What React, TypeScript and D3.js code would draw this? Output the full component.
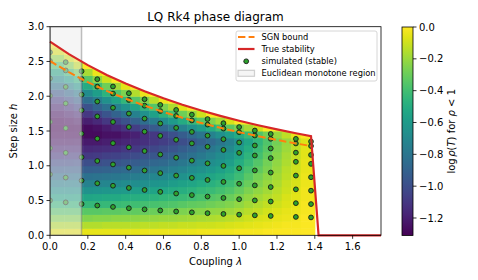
import React, { useEffect, useRef } from 'react';
import * as d3 from 'd3';

// stability boundaries
const curveLambda = [0, 0.1, 0.2, 0.3, 0.4, 0.5, 0.6, 0.7, 0.8, 0.9, 1.0, 1.1, 1.2, 1.3, 1.38];
const trueStability = [2.785, 2.605, 2.447, 2.307, 2.183, 2.071, 1.97, 1.878, 1.794, 1.718, 1.648, 1.583, 1.524, 1.468, 1.427];
const trueTailLambda = [1.42, 1.75];
const trueTail = [0, 0];
const sgnBound = [2.507, 2.345, 2.202, 2.076, 1.965, 1.864, 1.773, 1.69, 1.615, 1.546, 1.483, 1.425, 1.372, 1.321, 1.284];

// simulated (stable) runs
const simLambda = [0, 0.083, 0.167, 0.25, 0.333, 0.417, 0.5, 0.583, 0.667, 0.75, 0.833, 0.917, 1.0, 1.083, 1.167, 1.3, 1.38];
const simStep = [
  [0.501, 0.877, 1.253, 1.63, 2.006, 2.256, 2.507, 2.632],
  [0.474, 0.83, 1.186, 1.541, 1.897, 2.134, 2.371, 2.49],
  [0.45, 0.787, 1.124, 1.461, 1.798, 2.023, 2.248, 2.36],
  [0.428, 0.748, 1.069, 1.39, 1.71, 1.924, 2.138, 2.245],
  [0.408, 0.713, 1.019, 1.325, 1.63, 1.834, 2.038, 2.14],
  [0.389, 0.681, 0.973, 1.265, 1.557, 1.751, 1.946, 2.043],
  [0.373, 0.652, 0.932, 1.212, 1.491, 1.678, 1.864, 1.957],
  [0.357, 0.625, 0.894, 1.162, 1.43, 1.608, 1.787, 1.876],
  [0.343, 0.601, 0.859, 1.116, 1.374, 1.545, 1.717, 1.803],
  [0.33, 0.578, 0.826, 1.074, 1.322, 1.487, 1.652, 1.735],
  [0.318, 0.557, 0.796, 1.035, 1.274, 1.433, 1.592, 1.672],
  [0.307, 0.537, 0.768, 0.998, 1.228, 1.382, 1.535, 1.612],
  [0.297, 0.519, 0.742, 0.964, 1.186, 1.335, 1.483, 1.557],
  [0.287, 0.502, 0.718, 0.933, 1.148, 1.292, 1.435, 1.507],
  [0.278, 0.486, 0.694, 0.902, 1.11, 1.249, 1.388, 1.457],
  [0.264, 0.462, 0.661, 0.859, 1.057, 1.189, 1.321, 1.387],
  [0.257, 0.449, 0.642, 0.835, 1.027, 1.156, 1.284, 1.348],
];

// log rho(T) grid, one array per lambda column, rows going up in h (0.1 steps)
const heatLambdaEdges = [0, 0.075, 0.125, 0.175, 0.225, 0.275, 0.325, 0.375, 0.425, 0.475, 0.525, 0.575, 0.625, 0.675,
  0.725, 0.775, 0.825, 0.875, 0.925, 0.975, 1.025, 1.075, 1.125, 1.175, 1.225, 1.275, 1.325, 1.4];
const heatStepEdges = [0, 0.1, 0.2, 0.3, 0.4, 0.5, 0.6, 0.7, 0.8, 0.9, 1.0, 1.1, 1.2, 1.3, 1.4, 1.5, 1.6, 1.7, 1.8, 1.9, 2.0, 2.1, 2.2, 2.3, 2.4, 2.5, 2.6, 2.7, 2.8];
const heatValues = [
  [-0.05, -0.15, -0.25, -0.35, -0.45, -0.55, -0.65, -0.75, -0.84, -0.94, -1.02, -1.11, -1.18, -1.24, -1.28, -1.3, -1.29, -1.25, -1.18, -1.08, -0.96, -0.83, -0.69, -0.54, -0.38, -0.22, -0.07, 0],
  [-0.05, -0.15, -0.25, -0.35, -0.45, -0.55, -0.65, -0.74, -0.84, -0.93, -1.02, -1.1, -1.17, -1.24, -1.28, -1.3, -1.27, -1.21, -1.12, -1.01, -0.88, -0.73, -0.58, -0.42, -0.25, -0.09, 0],
  [-0.05, -0.15, -0.25, -0.35, -0.45, -0.54, -0.64, -0.74, -0.83, -0.93, -1.01, -1.1, -1.17, -1.23, -1.28, -1.29, -1.24, -1.16, -1.05, -0.92, -0.78, -0.62, -0.46, -0.29, -0.12, -0.01],
  [-0.05, -0.15, -0.25, -0.34, -0.44, -0.54, -0.64, -0.73, -0.82, -0.92, -1.0, -1.09, -1.16, -1.22, -1.27, -1.27, -1.2, -1.1, -0.98, -0.84, -0.68, -0.51, -0.34, -0.17, 0],
  [-0.05, -0.15, -0.24, -0.34, -0.44, -0.53, -0.63, -0.72, -0.81, -0.91, -1.0, -1.08, -1.15, -1.22, -1.27, -1.25, -1.16, -1.04, -0.9, -0.75, -0.58, -0.4, -0.22, -0.04, 0],
  [-0.05, -0.14, -0.24, -0.33, -0.43, -0.52, -0.62, -0.71, -0.8, -0.9, -0.98, -1.06, -1.14, -1.2, -1.25, -1.21, -1.1, -0.97, -0.82, -0.65, -0.47, -0.29, -0.1, 0],
  [-0.05, -0.14, -0.23, -0.33, -0.42, -0.52, -0.61, -0.7, -0.79, -0.88, -0.97, -1.05, -1.13, -1.19, -1.25, -1.17, -1.05, -0.9, -0.73, -0.55, -0.36, -0.18, -0.01],
  [-0.05, -0.14, -0.23, -0.32, -0.41, -0.5, -0.6, -0.68, -0.78, -0.86, -0.95, -1.03, -1.1, -1.17, -1.22, -1.12, -0.98, -0.82, -0.64, -0.45, -0.26, -0.06],
  [-0.05, -0.14, -0.23, -0.32, -0.4, -0.49, -0.58, -0.67, -0.76, -0.85, -0.93, -1.01, -1.09, -1.15, -1.19, -1.07, -0.91, -0.74, -0.55, -0.35, -0.15, -0.01],
  [-0.04, -0.13, -0.22, -0.31, -0.39, -0.48, -0.57, -0.66, -0.74, -0.82, -0.91, -0.98, -1.06, -1.13, -1.14, -1.0, -0.84, -0.65, -0.45, -0.25, -0.04],
  [-0.04, -0.13, -0.21, -0.3, -0.38, -0.47, -0.55, -0.63, -0.71, -0.8, -0.88, -0.96, -1.03, -1.1, -1.1, -0.94, -0.76, -0.56, -0.35, -0.14, -0.01],
  [-0.04, -0.12, -0.2, -0.29, -0.37, -0.45, -0.53, -0.62, -0.7, -0.78, -0.86, -0.93, -1.0, -1.07, -1.04, -0.88, -0.68, -0.47, -0.26, -0.04],
  [-0.04, -0.12, -0.2, -0.28, -0.36, -0.43, -0.51, -0.59, -0.67, -0.75, -0.82, -0.9, -0.97, -1.04, -0.99, -0.8, -0.6, -0.38, -0.16, -0.01],
  [-0.04, -0.11, -0.19, -0.26, -0.34, -0.42, -0.49, -0.56, -0.64, -0.72, -0.79, -0.86, -0.93, -1.0, -0.93, -0.73, -0.51, -0.29, -0.06],
  [-0.04, -0.11, -0.18, -0.25, -0.32, -0.4, -0.47, -0.54, -0.61, -0.68, -0.75, -0.82, -0.89, -0.96, -0.86, -0.65, -0.43, -0.2, -0.01],
  [-0.03, -0.1, -0.17, -0.24, -0.31, -0.38, -0.44, -0.51, -0.58, -0.65, -0.71, -0.78, -0.84, -0.91, -0.8, -0.58, -0.34, -0.1],
  [-0.03, -0.1, -0.16, -0.22, -0.29, -0.35, -0.42, -0.48, -0.54, -0.61, -0.67, -0.73, -0.79, -0.86, -0.73, -0.5, -0.25, -0.01],
  [-0.03, -0.09, -0.15, -0.21, -0.27, -0.33, -0.39, -0.45, -0.51, -0.57, -0.63, -0.68, -0.74, -0.8, -0.66, -0.41, -0.17, 0],
  [-0.03, -0.08, -0.14, -0.19, -0.25, -0.3, -0.36, -0.41, -0.47, -0.52, -0.58, -0.63, -0.69, -0.74, -0.58, -0.33, -0.08],
  [-0.02, -0.07, -0.12, -0.17, -0.22, -0.26, -0.31, -0.36, -0.41, -0.45, -0.5, -0.55, -0.59, -0.64, -0.51, -0.25, 0],
  [-0.02, -0.06, -0.1, -0.14, -0.18, -0.22, -0.26, -0.3, -0.34, -0.38, -0.42, -0.46, -0.5, -0.54, -0.43, -0.17, -0.01],
  [-0.02, -0.05, -0.08, -0.12, -0.15, -0.18, -0.22, -0.25, -0.28, -0.32, -0.35, -0.39, -0.42, -0.45, -0.36, -0.09],
  [-0.01, -0.04, -0.07, -0.09, -0.12, -0.15, -0.18, -0.2, -0.23, -0.26, -0.28, -0.31, -0.34, -0.36, -0.28, -0.01],
  [-0.01, -0.03, -0.05, -0.07, -0.1, -0.12, -0.14, -0.16, -0.18, -0.2, -0.22, -0.24, -0.26, -0.28, -0.2, 0],
  [-0.01, -0.02, -0.04, -0.05, -0.07, -0.08, -0.1, -0.11, -0.13, -0.14, -0.16, -0.17, -0.19, -0.2, -0.13, 0],
  [-0.01, -0.02, -0.03, -0.04, -0.05, -0.06, -0.07, -0.08, -0.09, -0.1, -0.11, -0.12, -0.13, -0.14, -0.05],
  [0, -0.01, -0.01, -0.02, -0.02, -0.03, -0.03, -0.04, -0.04, -0.05, -0.05, -0.06, -0.06, -0.07, -0.01],
];

const euclidLambda = 0.1667;
const xTicks = [0, 0.2, 0.4, 0.6, 0.8, 1.0, 1.2, 1.4, 1.6];
const yTicks = [0, 0.5, 1.0, 1.5, 2.0, 2.5, 3.0];
const cbarTicks = [0, -0.2, -0.4, -0.6, -0.8, -1.0, -1.2];
const vMin = -1.31;

const FONT = '"DejaVu Sans", sans-serif';

export default function App() {
  const ref = useRef<SVGSVGElement>(null);

  useEffect(() => {
    document.body.style.margin = '0';
    const svg = d3.select(ref.current);
    svg.selectAll('*').remove();

    const x = d3.scaleLinear().domain([0, 1.75]).range([50, 381]);
    const y = d3.scaleLinear().domain([0, 3]).range([235.3, 26.7]);
    const color = d3.scaleSequential(d3.interpolateViridis).domain([vMin, 0]);
    const fmt = d3.format('.1f');

    const defs = svg.append('defs');
    defs.append('clipPath').attr('id', 'plot-clip')
      .append('rect').attr('x', x(0)).attr('y', y(3))
      .attr('width', x(1.75) - x(0)).attr('height', y(0) - y(3));

    // region under the true stability curve
    const underPts: [number, number][] = [[0, 0]];
    curveLambda.forEach((l, i) => underPts.push([l, trueStability[i]]));
    underPts.push([trueTailLambda[0], 0]);
    const lineXY = d3.line<[number, number]>().x(d => x(d[0])).y(d => y(d[1]));
    defs.append('clipPath').attr('id', 'stable-clip')
      .append('path').attr('d', lineXY(underPts) + 'Z');

    const plot = svg.append('g').attr('clip-path', 'url(#plot-clip)');

    // heatmap
    const heat = plot.append('g').attr('clip-path', 'url(#stable-clip)');
    heatValues.forEach((col, i) => {
      col.forEach((v, j) => {
        heat.append('rect')
          .attr('x', x(heatLambdaEdges[i]))
          .attr('y', y(heatStepEdges[j + 1]))
          .attr('width', x(heatLambdaEdges[i + 1]) - x(heatLambdaEdges[i]) + 0.5)
          .attr('height', y(heatStepEdges[j]) - y(heatStepEdges[j + 1]) + 0.5)
          .attr('fill', color(v));
      });
    });

    // simulated points
    simLambda.forEach((l, i) => {
      plot.selectAll(null).data(simStep[i]).enter().append('circle')
        .attr('cx', x(l)).attr('cy', d => y(d)).attr('r', 2.4)
        .attr('fill', '#2ca02c').attr('stroke', '#1a1a1a').attr('stroke-width', 0.9);
    });

    // euclidean monotone region
    plot.append('rect')
      .attr('x', x(0)).attr('y', y(3))
      .attr('width', x(euclidLambda) - x(0)).attr('height', y(0) - y(3))
      .attr('fill', '#ebebeb').attr('fill-opacity', 0.5)
      .attr('stroke', '#808080').attr('stroke-opacity', 0.5).attr('stroke-width', 1.5);

    // curves
    const sgnPts: [number, number][] = curveLambda.map((l, i) => [l, sgnBound[i]]);
    const truePts: [number, number][] = curveLambda.map((l, i) => [l, trueStability[i]]);
    trueTailLambda.forEach((l, i) => truePts.push([l, trueTail[i]]));
    plot.append('path').attr('d', lineXY(sgnPts)).attr('fill', 'none')
      .attr('stroke', '#ff7f0e').attr('stroke-width', 2).attr('stroke-dasharray', '7.4,3.2');
    svg.append('path').attr('d', lineXY(truePts)).attr('fill', 'none')
      .attr('stroke', '#d62728').attr('stroke-width', 2.2).attr('stroke-linejoin', 'miter');

    // spines
    svg.append('rect').attr('x', x(0)).attr('y', y(3))
      .attr('width', x(1.75) - x(0)).attr('height', y(0) - y(3))
      .attr('fill', 'none').attr('stroke', '#000').attr('stroke-width', 0.8);

    // x axis
    const gx = svg.append('g');
    xTicks.forEach(t => {
      gx.append('line').attr('x1', x(t)).attr('x2', x(t)).attr('y1', y(0)).attr('y2', y(0) + 3.5)
        .attr('stroke', '#000').attr('stroke-width', 0.8);
      gx.append('text').attr('x', x(t)).attr('y', y(0) + 15).attr('text-anchor', 'middle')
        .attr('font-family', FONT).attr('font-size', 10).text(fmt(t));
    });
    const xl = svg.append('text').attr('x', (x(0) + x(1.75)) / 2).attr('y', 265)
      .attr('text-anchor', 'middle').attr('font-family', FONT).attr('font-size', 10);
    xl.append('tspan').text('Coupling ');
    xl.append('tspan').attr('font-style', 'italic').text('λ');

    // y axis
    const gy = svg.append('g');
    yTicks.forEach(t => {
      gy.append('line').attr('x1', x(0) - 3.5).attr('x2', x(0)).attr('y1', y(t)).attr('y2', y(t))
        .attr('stroke', '#000').attr('stroke-width', 0.8);
      gy.append('text').attr('x', x(0) - 6).attr('y', y(t) + 3.6).attr('text-anchor', 'end')
        .attr('font-family', FONT).attr('font-size', 10).text(fmt(t));
    });
    const yl = svg.append('text').attr('transform', `translate(17,${(y(0) + y(3)) / 2}) rotate(-90)`)
      .attr('text-anchor', 'middle').attr('font-family', FONT).attr('font-size', 10);
    yl.append('tspan').text('Step size ');
    yl.append('tspan').attr('font-style', 'italic').text('h');

    // title
    svg.append('text').attr('x', (x(0) + x(1.75)) / 2).attr('y', 20.5).attr('text-anchor', 'middle')
      .attr('font-family', FONT).attr('font-size', 12).text('LQ Rk4 phase diagram');

    // legend
    const lg = svg.append('g');
    lg.append('rect').attr('x', 236).attr('y', 31).attr('width', 141).attr('height', 50).attr('rx', 2)
      .attr('fill', '#fff').attr('fill-opacity', 0.8).attr('stroke', '#cccccc').attr('stroke-width', 0.8);
    const rows = [37, 49, 61.3, 73.3];
    const labels = ['SGN bound', 'True stability', 'simulated (stable)', 'Euclidean monotone region'];
    lg.append('line').attr('x1', 238).attr('x2', 254.5).attr('y1', rows[0]).attr('y2', rows[0])
      .attr('stroke', '#ff7f0e').attr('stroke-width', 2).attr('stroke-dasharray', '7.4,3.2');
    lg.append('line').attr('x1', 238).attr('x2', 254.5).attr('y1', rows[1]).attr('y2', rows[1])
      .attr('stroke', '#d62728').attr('stroke-width', 2.2);
    lg.append('circle').attr('cx', 246.2).attr('cy', rows[2]).attr('r', 2.4)
      .attr('fill', '#2ca02c').attr('stroke', '#1a1a1a').attr('stroke-width', 0.9);
    lg.append('rect').attr('x', 238).attr('y', rows[3] - 3).attr('width', 16.5).attr('height', 6)
      .attr('fill', '#ebebeb').attr('fill-opacity', 0.5)
      .attr('stroke', '#808080').attr('stroke-opacity', 0.35).attr('stroke-width', 1.2);
    labels.forEach((s, i) => {
      lg.append('text').attr('x', 261.5).attr('y', rows[i] + 3)
        .attr('font-family', FONT).attr('font-size', 8.3).text(s);
    });

    // colorbar
    const cy = d3.scaleLinear().domain([vMin, 0]).range([235.5, 27]);
    const grad = defs.append('linearGradient').attr('id', 'cbar-grad')
      .attr('x1', 0).attr('y1', 1).attr('x2', 0).attr('y2', 0);
    d3.range(0, 1.0001, 0.05).forEach(t => {
      grad.append('stop').attr('offset', t).attr('stop-color', d3.interpolateViridis(t));
    });
    const cx0 = 402, cw = 11;
    svg.append('rect').attr('x', cx0).attr('y', cy(0)).attr('width', cw).attr('height', cy(vMin) - cy(0))
      .attr('fill', 'url(#cbar-grad)').attr('stroke', '#000').attr('stroke-width', 0.8);
    cbarTicks.forEach(t => {
      svg.append('line').attr('x1', cx0 + cw).attr('x2', cx0 + cw + 3.5).attr('y1', cy(t)).attr('y2', cy(t))
        .attr('stroke', '#000').attr('stroke-width', 0.8);
      svg.append('text').attr('x', cx0 + cw + 6).attr('y', cy(t) + 3.6)
        .attr('font-family', FONT).attr('font-size', 10).text(fmt(t));
    });
    const cl = svg.append('text').attr('transform', `translate(455,${(cy(0) + cy(vMin)) / 2}) rotate(-90)`)
      .attr('text-anchor', 'middle').attr('font-family', FONT).attr('font-size', 10);
    cl.append('tspan').text('log');
    cl.append('tspan').attr('font-style', 'italic').attr('dx', 1.5).text('ρ');
    cl.append('tspan').text('(');
    cl.append('tspan').attr('font-style', 'italic').text('T');
    cl.append('tspan').text(') for ');
    cl.append('tspan').attr('font-style', 'italic').text('ρ');
    cl.append('tspan').text(' < 1');
  }, []);

  return <svg ref={ref} width={478} height={280} style={{ display: 'block', background: '#fff' }} />;
}
